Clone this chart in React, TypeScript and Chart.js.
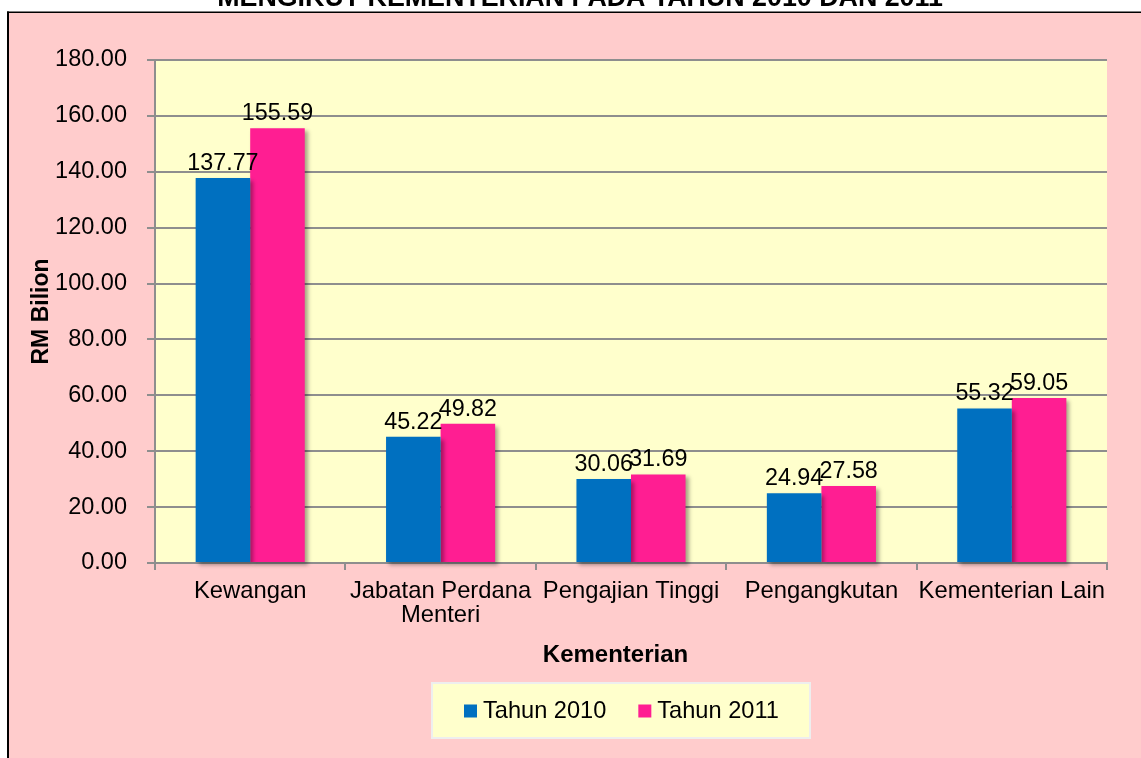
import React, { useEffect, useRef } from 'react';
import { Chart, registerables } from 'chart.js';

Chart.register(...registerables);

const chartTitle = 'MENGIKUT KEMENTERIAN PADA TAHUN 2010 DAN 2011';
const xTitle = 'Kementerian';
const yTitle = 'RM Bilion';
const categories: (string | string[])[] = [
  'Kewangan',
  ['Jabatan Perdana', 'Menteri'],
  'Pengajian Tinggi',
  'Pengangkutan',
  'Kementerian Lain',
];
const seriesNames = ['Tahun 2010', 'Tahun 2011'];
const values2010 = [137.77, 45.22, 30.06, 24.94, 55.32];
const values2011 = [155.59, 49.82, 31.69, 27.58, 59.05];
const seriesColors = ['#0070C0', '#FF1E92'];
const yMin = 0;
const yMax = 180;
const yStep = 20;

const FONT = '"Liberation Sans", Arial, sans-serif';
const GRID = '#8e8e8e';

const decorPlugin = {
  id: 'decor',
  beforeDraw(chart: any) {
    const { ctx, width, height, chartArea: ca } = chart;
    ctx.save();
    ctx.fillStyle = '#ffffff';
    ctx.fillRect(0, 0, width, height);
    ctx.fillStyle = '#FFCCCC';
    ctx.fillRect(9, 13, width - 9, height - 13);
    ctx.fillStyle = '#000000';
    ctx.fillRect(7, 11.5, width - 7, 1.5);
    ctx.fillRect(7, 11.5, 2, height - 11.5);
    ctx.font = `bold 26.8px ${FONT}`;
    ctx.textAlign = 'center';
    ctx.textBaseline = 'alphabetic';
    ctx.fillText(chartTitle, 580, 6);
    ctx.fillStyle = '#FFFFCC';
    ctx.fillRect(ca.left, ca.top, ca.right - ca.left, ca.bottom - ca.top);
    ctx.restore();
  },
  beforeDatasetDraw(chart: any) {
    const ctx = chart.ctx;
    ctx.save();
    ctx.shadowColor = 'rgba(0,0,0,0.35)';
    ctx.shadowBlur = 4;
    ctx.shadowOffsetX = 3;
    ctx.shadowOffsetY = 3;
  },
  afterDatasetDraw(chart: any) {
    chart.ctx.restore();
  },
  afterDatasetsDraw(chart: any) {
    const ctx = chart.ctx;
    ctx.save();
    ctx.font = `23.3px ${FONT}`;
    ctx.fillStyle = '#000000';
    ctx.textAlign = 'center';
    ctx.textBaseline = 'alphabetic';
    chart.data.datasets.forEach((ds: any, i: number) => {
      const meta = chart.getDatasetMeta(i);
      meta.data.forEach((el: any, j: number) => {
        ctx.fillText(Number(ds.data[j]).toFixed(2), el.x, el.y - 8);
      });
    });
    ctx.restore();
  },
  afterDraw(chart: any) {
    const ctx = chart.ctx;
    ctx.save();
    // x axis title
    ctx.font = `bold 24px ${FONT}`;
    ctx.fillStyle = '#000000';
    ctx.textAlign = 'center';
    ctx.textBaseline = 'middle';
    ctx.fillText(xTitle, 615.5, 655);
    // legend
    const bx = 432, by = 683, bw = 378, bh = 55;
    ctx.fillStyle = '#FFFFCC';
    ctx.fillRect(bx, by, bw, bh);
    ctx.strokeStyle = '#eeeeee';
    ctx.lineWidth = 2;
    ctx.strokeRect(bx, by, bw, bh);
    ctx.font = `23.6px ${FONT}`;
    ctx.textAlign = 'left';
    ctx.textBaseline = 'alphabetic';
    let x = 464;
    chart.data.datasets.forEach((ds: any) => {
      ctx.fillStyle = ds.backgroundColor;
      ctx.fillRect(x, 704.5, 13, 13);
      ctx.fillStyle = '#000000';
      ctx.fillText(ds.label, x + 19, 718);
      x += 19 + ctx.measureText(ds.label).width + 32;
    });
    ctx.restore();
  },
};

export default function App() {
  const ref = useRef<HTMLCanvasElement | null>(null);
  useEffect(() => {
    if (!ref.current) return;
    const chart = new Chart(ref.current, {
      type: 'bar',
      data: {
        labels: categories,
        datasets: [
          { label: seriesNames[0], data: values2010, backgroundColor: seriesColors[0], clip: false } as any,
          { label: seriesNames[1], data: values2011, backgroundColor: seriesColors[1], clip: false } as any,
        ],
      },
      plugins: [decorPlugin],
      options: {
        responsive: false,
        animation: false,
        devicePixelRatio: 1,
        layout: { padding: { left: 0, top: 60, right: 34, bottom: 0 } },
        datasets: { bar: { categoryPercentage: 0.573, barPercentage: 1 } },
        plugins: {
          legend: { display: false },
          title: { display: false },
          tooltip: { enabled: false },
        },
        scales: {
          x: {
            grid: {
              display: true,
              drawOnChartArea: false,
              drawTicks: true,
              tickLength: 7,
              color: GRID,
              lineWidth: 2,
              offset: true,
            },
            border: { display: true, color: GRID, width: 2 },
            ticks: {
              color: '#000000',
              font: { family: FONT, size: 23.8, lineHeight: 24 / 23.8 },
              padding: 9,
              maxRotation: 0,
              autoSkip: false,
            },
            afterFit: (s: any) => {
              s.height = 195;
            },
          },
          y: {
            min: yMin,
            max: yMax,
            ticks: {
              stepSize: yStep,
              callback: (v: any) => Number(v).toFixed(2),
              color: '#000000',
              font: { family: FONT, size: 23.5 },
              padding: 20,
            },
            grid: { color: GRID, lineWidth: 2, tickLength: 8 },
            border: { display: true, color: GRID, width: 2 },
            title: {
              display: true,
              text: yTitle,
              color: '#000000',
              font: { family: FONT, size: 23, weight: 'bold' },
              padding: { top: 28, bottom: 0 },
            },
            afterFit: (s: any) => {
              s.width = 155;
            },
          },
        },
      } as any,
    });
    return () => chart.destroy();
  }, []);
  return (
    <div style={{ position: 'absolute', left: 0, top: 0, width: 1141, height: 758 }}>
      <canvas ref={ref} width={1141} height={758} style={{ display: 'block', width: 1141, height: 758 }} />
    </div>
  );
}
